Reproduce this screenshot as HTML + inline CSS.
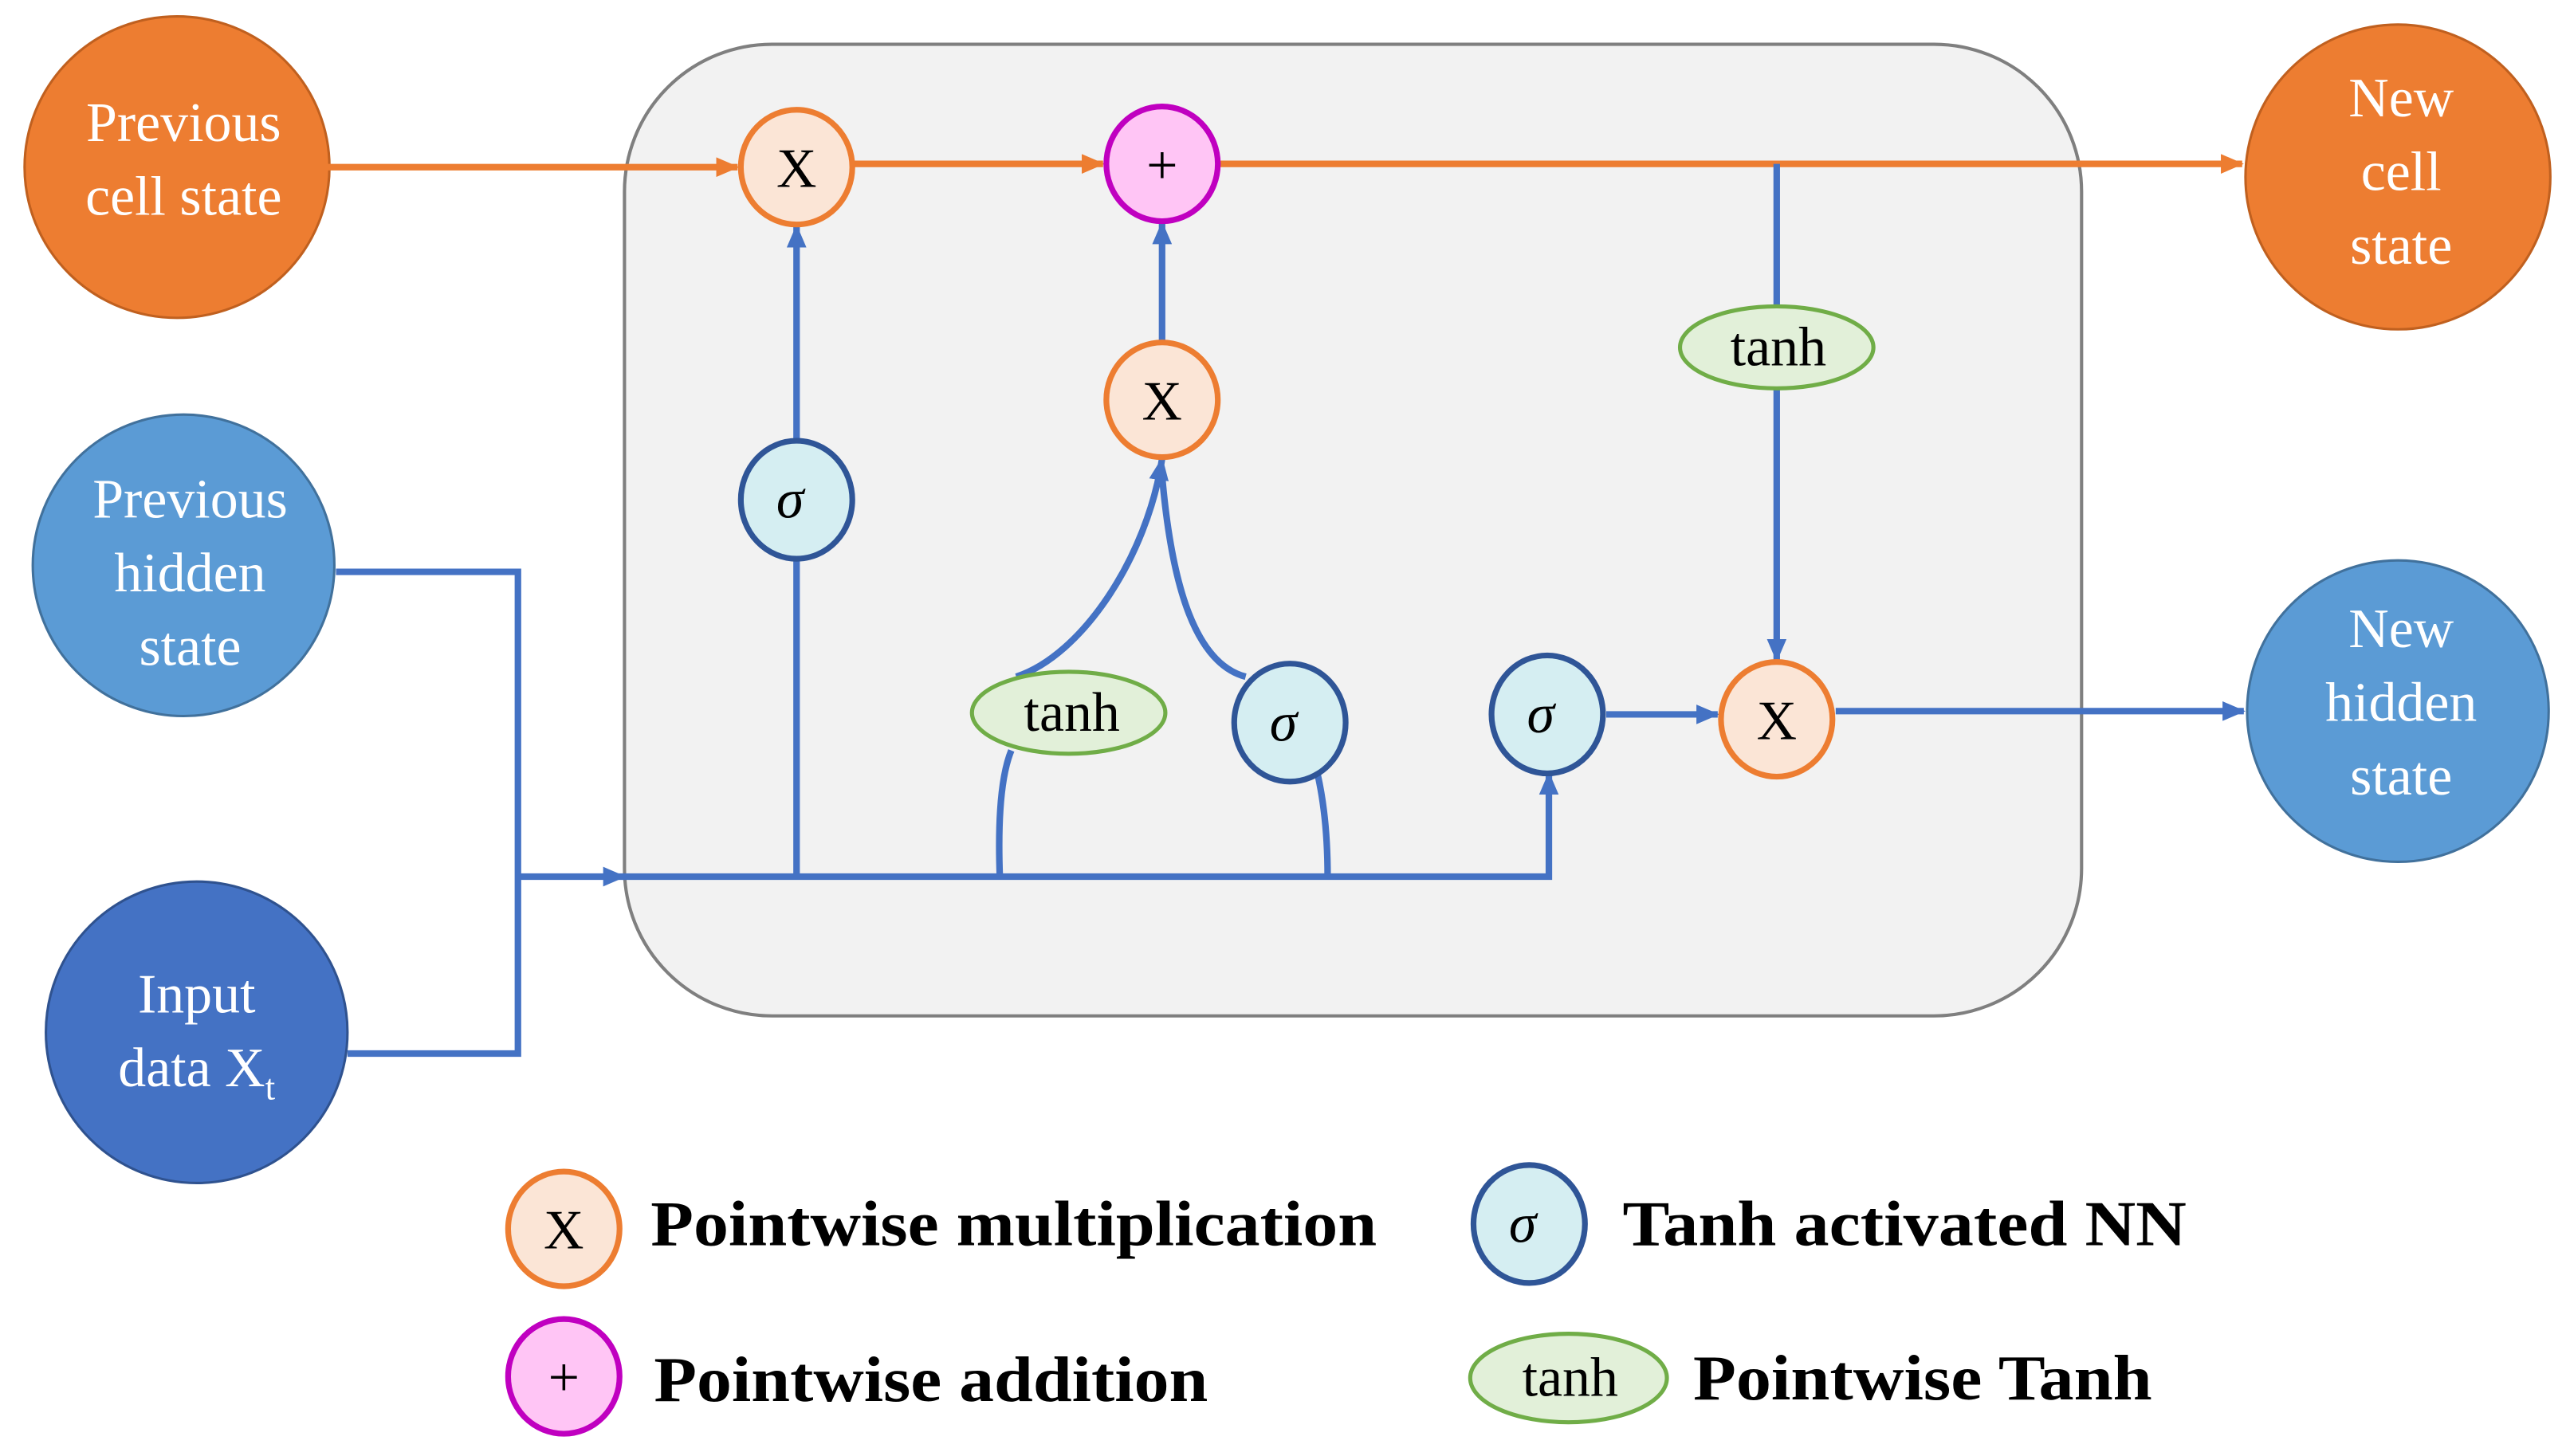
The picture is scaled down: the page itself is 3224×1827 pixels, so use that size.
<!DOCTYPE html>
<html><head><meta charset="utf-8"><style>html,body{margin:0;padding:0;background:#fff}svg{display:block}svg text{font-family:"Liberation Serif","Times New Roman",serif}</style></head><body>
<svg width="3224" height="1827" viewBox="0 0 1568 888.6" preserveAspectRatio="none" xmlns="http://www.w3.org/2000/svg">
<defs>
<marker id="ao" markerWidth="14" markerHeight="12" refX="13" refY="6" orient="auto" markerUnits="userSpaceOnUse" viewBox="0 0 14 12"><path d="M0,0 L14,6 L0,12 z" fill="#ED7D31"/></marker>
<marker id="ab" markerWidth="14" markerHeight="12" refX="13" refY="6" orient="auto" markerUnits="userSpaceOnUse" viewBox="0 0 14 12"><path d="M0,0 L14,6 L0,12 z" fill="#4472C4"/></marker>
</defs>
<rect x="381" y="27" width="889" height="593" rx="90" fill="#F2F2F2" stroke="#7F7F7F" stroke-width="2"/>
<ellipse cx="108" cy="102" rx="93" ry="92" fill="#ED7D31" stroke="#C0601F" stroke-width="1.5"/>
<text x="112" y="86" font-size="34" fill="#fff" text-anchor="middle">Previous</text>
<text x="112" y="131" font-size="34" fill="#fff" text-anchor="middle">cell state</text>
<ellipse cx="1463" cy="108" rx="93" ry="93" fill="#ED7D31" stroke="#C0601F" stroke-width="1.5"/>
<text x="1465" y="71" font-size="34" fill="#fff" text-anchor="middle">New</text>
<text x="1465" y="116" font-size="34" fill="#fff" text-anchor="middle">cell</text>
<text x="1465" y="161" font-size="34" fill="#fff" text-anchor="middle">state</text>
<ellipse cx="112" cy="345" rx="92" ry="92" fill="#5B9BD5" stroke="#41719C" stroke-width="1.5"/>
<text x="116" y="316" font-size="34" fill="#fff" text-anchor="middle">Previous</text>
<text x="116" y="361" font-size="34" fill="#fff" text-anchor="middle">hidden</text>
<text x="116" y="406" font-size="34" fill="#fff" text-anchor="middle">state</text>
<ellipse cx="1463" cy="434" rx="92" ry="92" fill="#5B9BD5" stroke="#41719C" stroke-width="1.5"/>
<text x="1465" y="395" font-size="34" fill="#fff" text-anchor="middle">New</text>
<text x="1465" y="440" font-size="34" fill="#fff" text-anchor="middle">hidden</text>
<text x="1465" y="485" font-size="34" fill="#fff" text-anchor="middle">state</text>
<ellipse cx="120" cy="630" rx="92" ry="92" fill="#4472C4" stroke="#2F528F" stroke-width="1.5"/>
<text x="120" y="618" font-size="34" fill="#fff" text-anchor="middle">Input</text>
<text x="120" y="663" font-size="34" fill="#fff" text-anchor="middle">data X<tspan font-size="22" dy="8">t</tspan></text>
<g stroke="#ED7D31" stroke-width="4" fill="none">
<line x1="200" y1="102" x2="450" y2="102" marker-end="url(#ao)"/>
<line x1="520" y1="100" x2="673" y2="100" marker-end="url(#ao)"/>
<line x1="744" y1="100" x2="1368" y2="100" marker-end="url(#ao)"/>
</g>
<g stroke="#4472C4" stroke-width="4" fill="none">
<line x1="1084" y1="100" x2="1084" y2="188"/>
<line x1="1084" y1="236" x2="1084" y2="403" marker-end="url(#ab)"/>
<polyline points="205,349 316,349 316,643 212,643"/>
<line x1="316" y1="535" x2="381" y2="535" marker-end="url(#ab)"/>
<polyline points="380,535 945,535 945,472" marker-end="url(#ab)"/>
<line x1="486" y1="535" x2="486" y2="339"/>
<line x1="486" y1="271" x2="486" y2="138" marker-end="url(#ab)"/>
<path d="M610,535 Q608,480 617,458"/>
<path d="M810,535 Q810,500 804,473"/>
<path d="M620,413 C660,400 700,340 709,280" marker-end="url(#ab)"/>
<path d="M760,413 C730,405 715,360 709,290"/>
<line x1="709" y1="210" x2="709" y2="136" marker-end="url(#ab)"/>
<line x1="980" y1="436" x2="1048" y2="436" marker-end="url(#ab)"/>
<line x1="1120" y1="434" x2="1369" y2="434" marker-end="url(#ab)"/>
</g>
<g stroke-width="3.5">
<ellipse cx="486" cy="102" rx="34" ry="35" fill="#FBE5D6" stroke="#ED7D31"/>
<ellipse cx="709" cy="100" rx="34" ry="35" fill="#FFC5F5" stroke="#C000C0"/>
<ellipse cx="709" cy="244" rx="34" ry="35" fill="#FBE5D6" stroke="#ED7D31"/>
<ellipse cx="1084" cy="439" rx="34" ry="35" fill="#FBE5D6" stroke="#ED7D31"/>
<ellipse cx="486" cy="305" rx="34" ry="36" fill="#D5EEF2" stroke="#2F5597"/>
<ellipse cx="787" cy="441" rx="34" ry="36" fill="#D5EEF2" stroke="#2F5597"/>
<ellipse cx="944" cy="436" rx="34" ry="36" fill="#D5EEF2" stroke="#2F5597"/>
<ellipse cx="652" cy="435" rx="59" ry="25" fill="#E2F0D9" stroke="#70AD47" stroke-width="2.5"/>
<ellipse cx="1084" cy="212" rx="59" ry="25" fill="#E2F0D9" stroke="#70AD47" stroke-width="2.5"/>
</g>
<g font-size="34" text-anchor="middle" fill="#000">
<text x="486" y="114">X</text>
<text x="709" y="112">+</text>
<text x="709" y="256">X</text>
<text x="1084" y="451">X</text>
<text x="482" y="316" font-style="italic">σ</text>
<text x="783" y="452" font-style="italic">σ</text>
<text x="940" y="447" font-style="italic">σ</text>
<text x="654" y="446">tanh</text>
<text x="1085" y="223">tanh</text>
</g>
<g stroke-width="3.5">
<ellipse cx="344" cy="750" rx="34" ry="35" fill="#FBE5D6" stroke="#ED7D31"/>
<ellipse cx="344" cy="840" rx="34" ry="35" fill="#FFC5F5" stroke="#C000C0"/>
<ellipse cx="933" cy="747" rx="34" ry="36" fill="#D5EEF2" stroke="#2F5597"/>
<ellipse cx="957" cy="841" rx="60" ry="27" fill="#E2F0D9" stroke="#70AD47" stroke-width="2.5"/>
</g>
<g font-size="34" text-anchor="middle">
<text x="344" y="762">X</text>
<text x="344" y="852">+</text>
<text x="929" y="758" font-style="italic">σ</text>
<text x="958" y="852">tanh</text>
</g>
<g font-size="39" font-weight="bold">
<text x="397" y="760" textLength="443" lengthAdjust="spacingAndGlyphs">Pointwise multiplication</text>
<text x="990" y="760" textLength="344" lengthAdjust="spacingAndGlyphs">Tanh activated NN</text>
<text x="399" y="855" textLength="338" lengthAdjust="spacingAndGlyphs">Pointwise addition</text>
<text x="1033" y="854" textLength="280" lengthAdjust="spacingAndGlyphs">Pointwise Tanh</text>
</g>
</svg>
</body></html>
